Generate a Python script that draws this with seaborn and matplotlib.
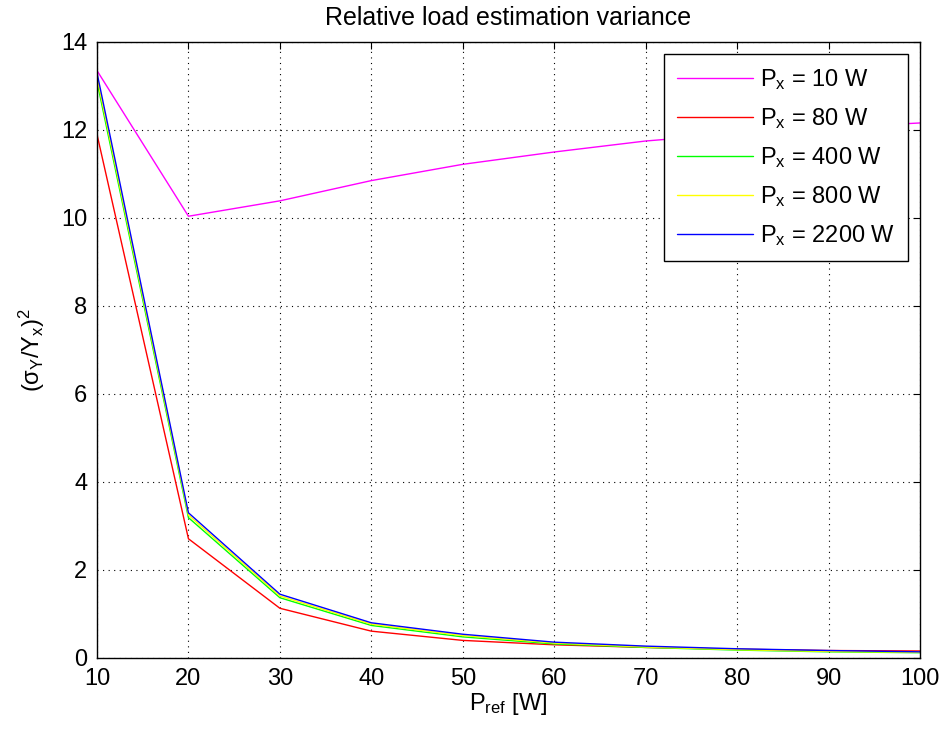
import numpy as np
import pandas as pd
import matplotlib
matplotlib.use("Agg")
import matplotlib.pyplot as plt
import seaborn as sns

p_ref = [10, 20, 30, 40, 50, 60, 70, 80, 90, 100]
v_10 = [13.35, 10.04, 10.39, 10.85, 11.22, 11.50, 11.75, 11.92, 12.05, 12.16]
v_80 = [11.90, 2.71, 1.13, 0.61, 0.40, 0.30, 0.24, 0.20, 0.17, 0.16]
v_400 = [13.10, 3.19, 1.37, 0.74, 0.48, 0.32, 0.24, 0.18, 0.14, 0.12]
v_800 = [13.20, 3.25, 1.41, 0.77, 0.51, 0.34, 0.25, 0.19, 0.15, 0.13]
v_2200 = [13.30, 3.30, 1.45, 0.80, 0.54, 0.36, 0.27, 0.21, 0.17, 0.14]
labels = [r"$\mathrm{P_x}$ = 10 W", r"$\mathrm{P_x}$ = 80 W", r"$\mathrm{P_x}$ = 400 W",
          r"$\mathrm{P_x}$ = 800 W", r"$\mathrm{P_x}$ = 2200 W"]
colors = ["#FF00FF", "#FF0000", "#00FF00", "#FFFF00", "#0000FF"]

series = [v_10, v_80, v_400, v_800, v_2200]
df = pd.concat([pd.DataFrame({"P_ref": p_ref, "value": s, "series": lab})
                for s, lab in zip(series, labels)], ignore_index=True)

sns.set_style("white")
plt.rcParams["font.family"] = ["Liberation Sans", "DejaVu Sans"]
plt.rcParams["mathtext.fontset"] = "custom"
plt.rcParams["mathtext.rm"] = "Liberation Sans"
plt.rcParams["mathtext.it"] = "Liberation Sans"
plt.rcParams["mathtext.sf"] = "Liberation Sans"
plt.rcParams["text.color"] = "black"
plt.rcParams["axes.labelcolor"] = "black"
plt.rcParams["xtick.color"] = "black"
plt.rcParams["ytick.color"] = "black"

fig = plt.figure(figsize=(9.44, 7.33), dpi=100)
ax = fig.add_axes([97/944, 75/733, (920-97)/944, (658-42)/733])

sns.lineplot(data=df, x="P_ref", y="value", hue="series", hue_order=labels,
             palette=dict(zip(labels, colors)), linewidth=1.0, ax=ax, legend=True)

ax.set_xlim(10, 100)
ax.set_ylim(0, 14)
ax.set_xticks(p_ref)
ax.set_yticks(np.arange(0, 15, 2))
ax.grid(True, color="black", linestyle=(0, (1, 4)), linewidth=0.8)
for s in ax.spines.values():
    s.set_color("black")
    s.set_linewidth(1.0)
ax.tick_params(direction="in", length=5, width=0.8, top=True, right=True,
               labelsize=17, colors="black", pad=7)
ax.set_title("Relative load estimation variance", fontsize=18, pad=12)
ax.set_xlabel(r"$\mathrm{P_{ref}}$ [W]", fontsize=17, labelpad=1)
ax.set_ylabel(r"$\mathrm{(\sigma_Y/Y_x)^2}$", fontsize=17, labelpad=10)

leg = ax.legend(loc="upper right", fontsize=17, frameon=True, fancybox=False,
                edgecolor="black", framealpha=1.0, handlelength=3.2,
                handletextpad=0.3, borderaxespad=0.5, labelspacing=0.6,
                borderpad=0.55)
leg.get_frame().set_linewidth(1.0)

fig.savefig("out.png", dpi=100)
